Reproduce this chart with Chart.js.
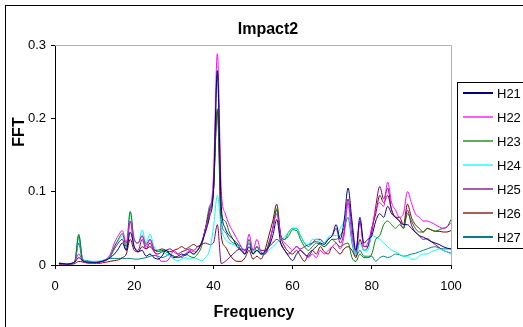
<!DOCTYPE html>
<html>
<head>
<meta charset="utf-8">
<script src="https://cdn.jsdelivr.net/npm/chart.js@4/dist/chart.umd.min.js"></script>
<style>
  html, body { margin: 0; padding: 0; background: #fff; }
  #wrap { width: 523px; height: 327px; }
</style>
</head>
<body>
<div id="wrap"><canvas id="chartFft"></canvas></div>
<script>
// frequency 1..100
const freqs = [];
for (let f = 1; f <= 100; f++) freqs.push(f);

const seriesNames = ['H21', 'H22', 'H23', 'H24', 'H25', 'H26', 'H27'];
const seriesColors = ['#000080', '#ff00ff', '#008000', '#00ffff', '#800080', '#800000', '#008080'];

const xTicks = [0, 20, 40, 60, 80, 100];
const yTicks = [0, 0.1, 0.2, 0.3];

const h21 = [.002,.002,.001,.002,.004,.01,.006,.004,.004,.003,.004,.005,.007,.01,.015,.022,.03,.02,.045,.025,
  .018,.02,.012,.015,.01,.008,.012,.02,.015,.01,.012,.015,.013,.018,.015,.02,.03,.045,.065,.1,
  .265,.08,.05,.04,.035,.025,.02,.015,.025,.015,.02,.015,.018,.025,.04,.062,.03,.02,.012,.006,
  .015,.02,.015,.012,.02,.025,.03,.028,.035,.04,.055,.035,.06,.105,.06,.02,.065,.03,.035,.04,
  .06,.07,.065,.08,.07,.065,.06,.055,.055,.05,.045,.04,.038,.035,.032,.03,.028,.025,.023,.022];
const h22 = [.002,.001,.001,.002,.005,.015,.005,.003,.002,.002,.003,.005,.008,.015,.03,.04,.047,.03,.06,.035,
  .03,.04,.025,.035,.02,.01,.005,.005,.01,.02,.015,.01,.015,.02,.018,.02,.03,.05,.07,.12,
  .288,.1,.07,.055,.045,.035,.025,.015,.042,.02,.035,.018,.015,.025,.05,.07,.04,.03,.025,.02,
  .025,.02,.015,.01,.015,.01,.02,.015,.02,.025,.03,.022,.04,.085,.04,.02,.06,.025,.03,.05,
  .075,.085,.08,.113,.085,.075,.065,.07,.1,.085,.07,.065,.06,.06,.058,.055,.052,.05,.052,.058];
const h23 = [.002,.001,.001,.002,.005,.04,.006,.004,.003,.003,.004,.005,.007,.012,.025,.035,.043,.025,.073,.035,
  .03,.04,.028,.035,.022,.018,.02,.018,.015,.012,.01,.012,.015,.012,.01,.015,.025,.05,.07,.1,
  .213,.07,.06,.045,.035,.03,.02,.015,.035,.015,.025,.015,.015,.03,.05,.077,.04,.035,.04,.048,
  .047,.035,.025,.02,.025,.03,.028,.025,.03,.035,.03,.025,.028,.03,.01,.005,.015,.01,.01,.015,
  .035,.04,.055,.06,.055,.05,.055,.05,.07,.06,.05,.045,.045,.05,.048,.046,.048,.05,.052,.062];
const h24 = [.002,.002,.001,.002,.004,.035,.006,.005,.005,.004,.005,.006,.008,.012,.025,.033,.04,.03,.072,.035,
  .03,.048,.03,.042,.025,.02,.018,.015,.012,.008,.006,.008,.01,.008,.01,.008,.006,.01,.02,.05,
  .095,.05,.035,.03,.028,.025,.02,.015,.03,.02,.025,.018,.015,.02,.025,.03,.035,.038,.045,.05,
  .05,.04,.03,.028,.035,.035,.033,.03,.038,.04,.04,.05,.06,.08,.035,.015,.03,.02,.02,.04,
  .038,.035,.03,.025,.02,.018,.015,.012,.012,.008,.008,.012,.015,.015,.018,.02,.022,.02,.018,.015];
const h25 = [.001,.001,.001,.002,.004,.03,.005,.004,.003,.003,.004,.005,.007,.012,.022,.03,.035,.02,.06,.025,
  .02,.035,.022,.03,.018,.015,.018,.02,.022,.018,.015,.018,.02,.022,.02,.025,.028,.03,.028,.03,
  .055,.002,.005,.01,.015,.02,.022,.02,.03,.02,.025,.02,.02,.025,.03,.035,.03,.02,.015,.02,
  .025,.022,.025,.028,.03,.035,.035,.03,.035,.04,.05,.03,.045,.09,.05,.015,.06,.025,.025,.045,
  .08,.107,.09,.105,.075,.065,.06,.05,.075,.055,.045,.04,.035,.036,.032,.028,.024,.02,.018,.016];
const h26 = [.002,.002,.001,.001,.002,.005,.004,.003,.002,.003,.002,.003,.004,.005,.006,.007,.01,.015,.035,.02,
  .018,.025,.022,.025,.02,.02,.022,.02,.018,.02,.022,.025,.022,.025,.028,.025,.03,.05,.075,.1,
  .21,.04,.025,.015,.008,.005,.005,.01,.02,.008,.012,.008,.02,.04,.06,.083,.04,.025,.018,.015,
  .02,.012,.005,.015,.02,.015,.025,.018,.015,.025,.02,.015,.022,.025,.02,.01,.035,.02,.025,.05,
  .07,.095,.085,.095,.075,.065,.065,.055,.083,.065,.055,.05,.045,.05,.048,.046,.046,.045,.045,.047];
const h27 = [.003,.002,.001,.002,.005,.042,.008,.006,.005,.005,.005,.006,.008,.009,.009,.009,.009,.009,.009,.008,
  .008,.009,.01,.012,.013,.012,.01,.012,.015,.012,.01,.012,.015,.018,.015,.02,.03,.05,.08,.1,
  .26,.06,.045,.035,.03,.028,.025,.02,.03,.015,.02,.015,.015,.03,.05,.075,.04,.035,.045,.05,
  .05,.04,.03,.025,.03,.032,.03,.025,.03,.035,.035,.04,.05,.065,.03,.012,.02,.012,.012,.012,
  .005,.01,.012,.01,.012,.015,.014,.012,.013,.015,.016,.018,.02,.022,.024,.025,.023,.022,.022,.022];

const seriesValues = [h21, h22, h23, h24, h25, h26, h27];

const datasets = seriesNames.map((name, i) => ({
  label: name,
  data: freqs.map((f, j) => ({ x: f, y: seriesValues[i][j] })),
  borderColor: seriesColors[i],
  backgroundColor: seriesColors[i],
  borderWidth: 1,
  pointRadius: 0,
  cubicInterpolationMode: 'monotone',
  fill: false
}));

const excelFrame = {
  id: 'excelFrame',
  afterDraw(chart) {
    const ctx = chart.ctx;
    const a = chart.chartArea;
    ctx.save();
    // outer chart border
    ctx.strokeStyle = '#000';
    ctx.lineWidth = 1;
    ctx.strokeRect(5.5, 5.5, 540, 340);
    // plot area top / right edges
    ctx.strokeStyle = '#b0b0b0';
    ctx.beginPath();
    ctx.moveTo(a.left, Math.round(a.top) + 0.5);
    ctx.lineTo(Math.round(a.right) + 0.5, Math.round(a.top) + 0.5);
    ctx.lineTo(Math.round(a.right) + 0.5, a.bottom);
    ctx.stroke();

    // title and axis titles
    ctx.fillStyle = '#000';
    ctx.font = 'bold 16px "Liberation Sans", Arial, sans-serif';
    ctx.textAlign = 'center';
    ctx.textBaseline = 'middle';
    ctx.fillText('Impact2', 268, 30);
    ctx.fillText('Frequency', 254, 313);
    ctx.save();
    ctx.translate(20, 132);
    ctx.rotate(-Math.PI / 2);
    ctx.fillText('FFT', 0, 0);
    ctx.restore();

    // legend
    ctx.strokeStyle = '#000';
    ctx.lineWidth = 1;
    ctx.strokeRect(457.5, 82.5, 80, 166);
    ctx.font = '13px "Liberation Sans", Arial, sans-serif';
    ctx.textAlign = 'left';
    seriesNames.forEach((name, i) => {
      const y = 93 + i * 24;
      ctx.strokeStyle = seriesColors[i];
      ctx.lineWidth = (i === 0 || i === 6) ? 2 : 1.3;
      ctx.beginPath();
      ctx.moveTo(463, y);
      ctx.lineTo(493, y);
      ctx.stroke();
      ctx.fillStyle = '#000';
      ctx.fillText(name, 497, y + 1);
    });
    ctx.restore();
  }
};

new Chart(document.getElementById('chartFft'), {
  type: 'line',
  data: { datasets },
  options: {
    responsive: true,
    maintainAspectRatio: false,
    animation: false,
    layout: { padding: { left: 0, top: 45, right: 72, bottom: 0 } },
    plugins: {
      legend: { display: false },
      tooltip: { enabled: false }
    },
    scales: {
      x: {
        type: 'linear',
        min: 0,
        max: 100,
        afterBuildTicks: (scale) => { scale.ticks = xTicks.map(v => ({ value: v })); },
        afterFit: (scale) => { scale.height = 62; },
        grid: { drawOnChartArea: false, drawTicks: true, tickLength: 4, color: '#000' },
        border: { color: '#000' },
        ticks: {
          color: '#000',
          padding: 10,
          maxRotation: 0,
          font: { size: 13, family: '"Liberation Sans", Arial, sans-serif' }
        }
      },
      y: {
        min: 0,
        max: 0.3,
        afterBuildTicks: (scale) => { scale.ticks = yTicks.map(v => ({ value: v })); },
        afterFit: (scale) => { scale.width = 55; },
        grid: { drawOnChartArea: false, drawTicks: true, tickLength: 4, color: '#000' },
        border: { color: '#000' },
        ticks: {
          color: '#000',
          padding: 5,
          callback: (v) => String(Math.round(v * 10) / 10),
          font: { size: 13, family: '"Liberation Sans", Arial, sans-serif' }
        }
      }
    }
  },
  plugins: [excelFrame]
});
</script>
</body>
</html>
